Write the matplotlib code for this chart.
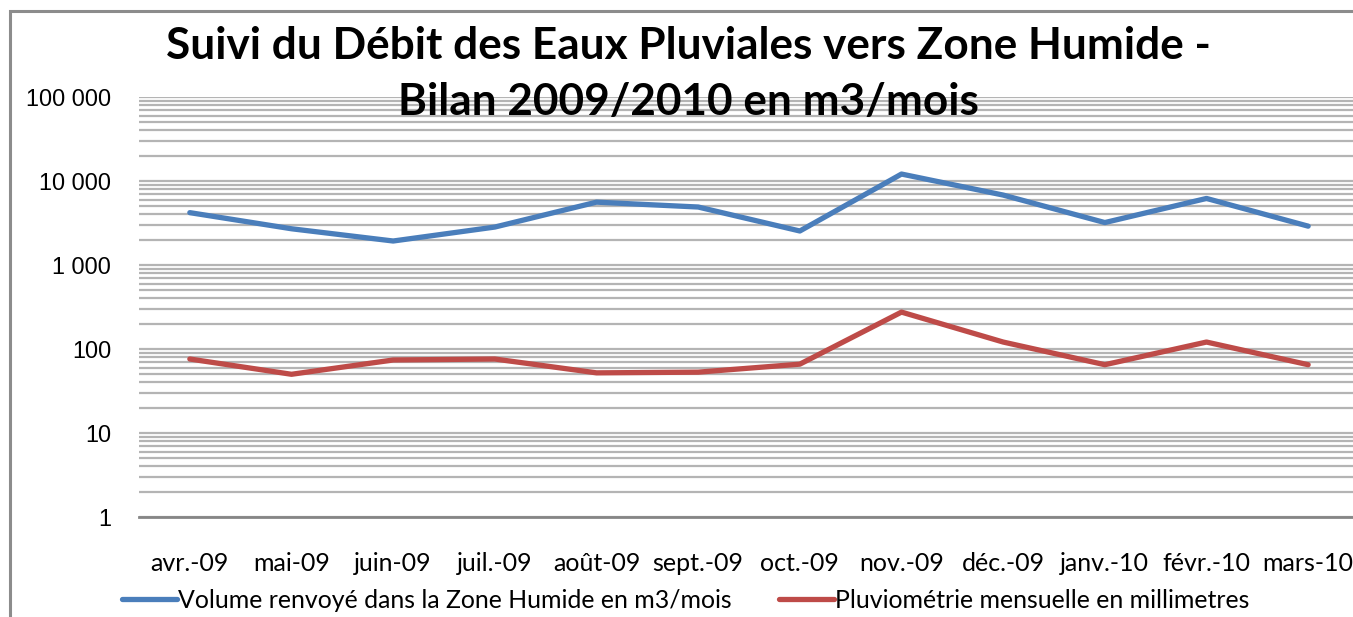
import matplotlib
matplotlib.use("Agg")
import matplotlib.pyplot as plt
from matplotlib.patches import Rectangle
from matplotlib.ticker import LogLocator, FixedLocator, FixedFormatter, NullFormatter

months = ["avr.-09", "mai-09", "juin-09", "juil.-09", "août-09", "sept.-09",
          "oct.-09", "nov.-09", "déc.-09", "janv.-10", "févr.-10", "mars-10"]
volume = [4200, 2700, 1930, 2830, 5600, 4900, 2540, 12100, 6800, 3200, 6200, 2900]
pluvio = [76, 50, 74, 76, 52, 53, 66, 275, 121, 65, 121, 65]
ytick_vals = [1, 10, 100, 1000, 10000, 100000]
ytick_labels = ["1", "10", "100", "1 000", "10 000", "100 000"]
title = "Suivi du Débit des Eaux Pluviales vers Zone Humide -\nBilan 2009/2010 en m3/mois"
lbl_vol = "Volume renvoyé dans la Zone Humide en m3/mois"
lbl_pluv = "Pluviométrie mensuelle en millimetres"

W, H = 1353, 617
fig = plt.figure(figsize=(W / 100, H / 100), dpi=100)
fig.patch.set_facecolor("white")

# chart border
fig.patches.append(Rectangle((10 / W, -0.05), 1.2, 1 - 11 / H + 0.05, transform=fig.transFigure,
                             fill=False, edgecolor="#8c8c8c", linewidth=2.2))

left, right, top, bottom = 139, 1359, 97, 517
ax = fig.add_axes([left / W, 1 - bottom / H, (right - left) / W, (bottom - top) / H])
ax.set_facecolor("none")

x = list(range(len(months)))
blue = "#4a7ebb"
red = "#be4b48"
ax.plot(x, volume, color=blue, lw=3.8, solid_capstyle="round", solid_joinstyle="round", label=lbl_vol, zorder=3)
ax.plot(x, pluvio, color=red, lw=3.8, solid_capstyle="round", solid_joinstyle="round", label=lbl_pluv, zorder=3)

ax.set_yscale("log")
ax.set_ylim(1, 100000)
ax.set_xlim(-0.5, len(months) - 0.5)
ax.yaxis.set_major_locator(FixedLocator(ytick_vals))
ax.yaxis.set_major_formatter(FixedFormatter(ytick_labels))
ax.yaxis.set_minor_locator(LogLocator(base=10, subs=range(2, 10)))
ax.yaxis.set_minor_formatter(NullFormatter())
ax.grid(True, which="both", axis="y", color="#b4b4b4", lw=1.6)
ax.set_axisbelow(True)
ax.set_xticks(x)
ax.set_xticklabels(months)
for s in ["left", "right", "top"]:
    ax.spines[s].set_visible(False)
ax.spines["bottom"].set_color("#868686")
ax.spines["bottom"].set_linewidth(2)
ax.tick_params(axis="both", which="both", length=0)
ax.tick_params(axis="y", labelsize=16.8, pad=20)
ax.tick_params(axis="x", labelsize=18, pad=25)
for t in ax.get_yticklabels():
    t.set_family("Liberation Sans")
for t in ax.get_xticklabels():
    t.set_family("Lato")

fig.text(688 / W, 1 - 74 / H, title, ha="center", va="center", fontsize=31.8,
         fontweight="bold", family="Lato", linespacing=1.5)

leg = fig.legend(loc="center", bbox_to_anchor=(686 / W, 1 - 600 / H), ncol=2, frameon=False,
                 prop={"family": "Lato", "size": 17.9}, handlelength=2.2, handletextpad=0.05,
                 columnspacing=1.9, borderpad=0, borderaxespad=0)

fig.savefig("out.png", dpi=100)
